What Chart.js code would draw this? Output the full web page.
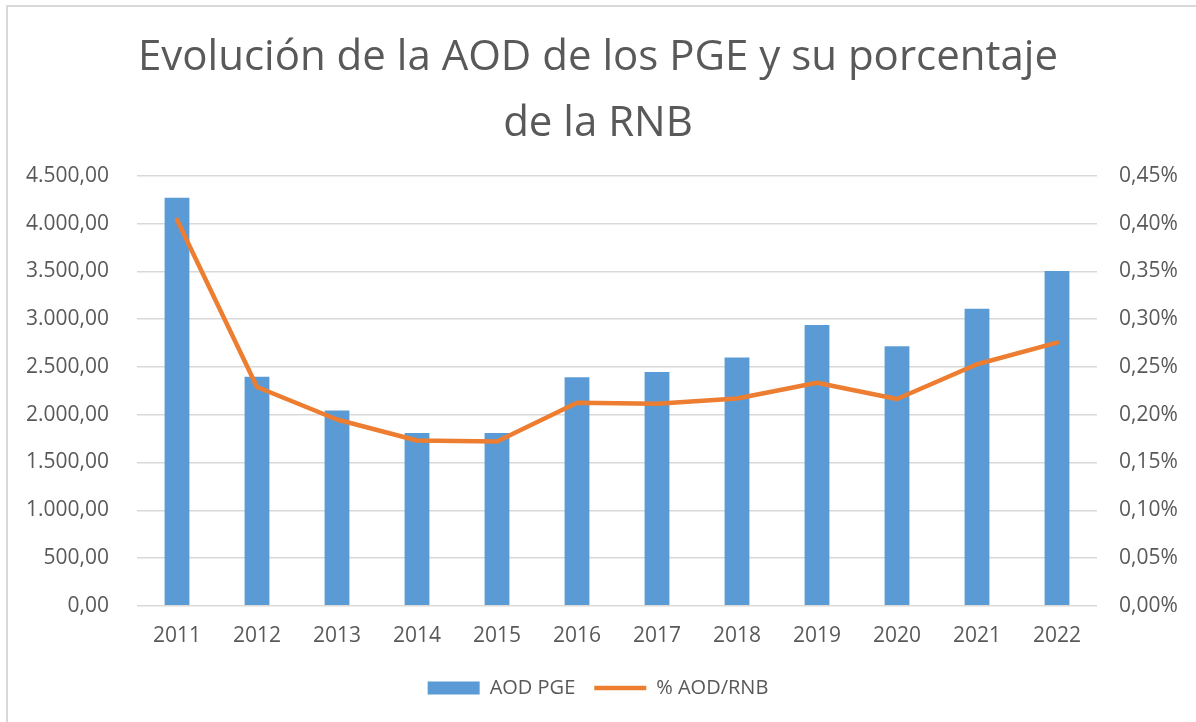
<!DOCTYPE html>
<html>
<head>
<meta charset="utf-8">
<script src="https://cdn.jsdelivr.net/npm/chart.js@4/dist/chart.umd.min.js"></script>
<style>
  html, body { margin: 0; padding: 0; background: #fff; }
  #wrap { position: relative; width: 1196px; height: 722px; overflow: hidden; }
  #frame { position: absolute; left: 6px; top: 5px; width: 1200px; height: 730px;
           border-left: 2px solid #d9d9d9; border-top: 2px solid #d9d9d9; }
  canvas { position: absolute; left: 0; top: 0; }
</style>
</head>
<body>
<div id="wrap">
  <div id="frame"></div>
  <canvas id="chart" width="1196" height="722"></canvas>
</div>
<script>
// datos
const years = ['2011', '2012', '2013', '2014', '2015', '2016', '2017', '2018', '2019', '2020', '2021', '2022'];
const aodPge = [4272, 2398, 2045, 1810, 1810, 2392, 2447, 2598, 2938, 2717, 3109, 3505];
const aodRnb = [0.404, 0.229, 0.195, 0.173, 0.172, 0.2125, 0.2115, 0.217, 0.2335, 0.2164, 0.2528, 0.2755]; // en %
const titleLines = ['Evolución de la AOD de los PGE y su porcentaje', 'de la RNB'];

const grey = '#595959';
const font = 'Open Sans';

// 4500 -> "4.500,00"
function fmtMiles(v) {
    const parts = v.toFixed(2).split('.');
    parts[0] = parts[0].replace(/\B(?=(\d{3})+(?!\d))/g, '.');
    return parts[0] + ',' + parts[1];
}

new Chart(document.getElementById('chart'), {
    type: 'bar',
    data: {
        labels: years,
        datasets: [
            { label: 'AOD PGE', data: aodPge, backgroundColor: '#5b9bd5', borderWidth: 0,
              barPercentage: 0.31, categoryPercentage: 1, yAxisID: 'y', pointStyle: 'rect', order: 2 },
            { type: 'line', label: '% AOD/RNB', data: aodRnb, borderColor: '#ed7d31', backgroundColor: '#ed7d31',
              borderWidth: 4.5, tension: 0, pointRadius: 0, pointHoverRadius: 0, pointBorderWidth: 4.5,
              pointStyle: 'line', borderCapStyle: 'round', borderJoinStyle: 'round', yAxisID: 'y1', order: 1 }
        ]
    },
    options: {
        responsive: false,
        animation: false,
        layout: { padding: { left: 0, right: 0, top: 14, bottom: 14 } },
        plugins: {
            title: { display: true, text: titleLines, color: grey,
                     font: { family: font, size: 42, weight: 'normal', lineHeight: 1.57 },
                     padding: { top: 11, bottom: 19 } },
            legend: { position: 'bottom',
                      labels: { usePointStyle: true, pointStyleWidth: 52, boxHeight: 13, padding: 19,
                                color: grey, font: { family: font, size: 20 },
                                sort: (a, b) => a.datasetIndex - b.datasetIndex } },
            tooltip: { enabled: false }
        },
        scales: {
            x: {
                grid: { display: false }, border: { display: false },
                ticks: { color: grey, font: { family: font, size: 21 }, padding: 10 }
            },
            y: {
                position: 'left', min: 0, max: 4500,
                afterFit: s => { s.width = 137; },
                grid: { color: '#d9d9d9', lineWidth: 1.5, drawTicks: false },
                border: { display: false },
                ticks: { stepSize: 500, padding: 28, color: grey, font: { family: font, size: 21 },
                         callback: v => fmtMiles(v) }
            },
            y1: {
                position: 'right', min: 0, max: 0.45,
                afterFit: s => { s.width = 99; },
                grid: { display: false, drawTicks: false }, border: { display: false },
                ticks: { stepSize: 0.05, padding: 22, color: grey, font: { family: font, size: 21 },
                         callback: v => v.toFixed(2).replace('.', ',') + '%' }
            }
        }
    }
});
</script>
</body>
</html>
